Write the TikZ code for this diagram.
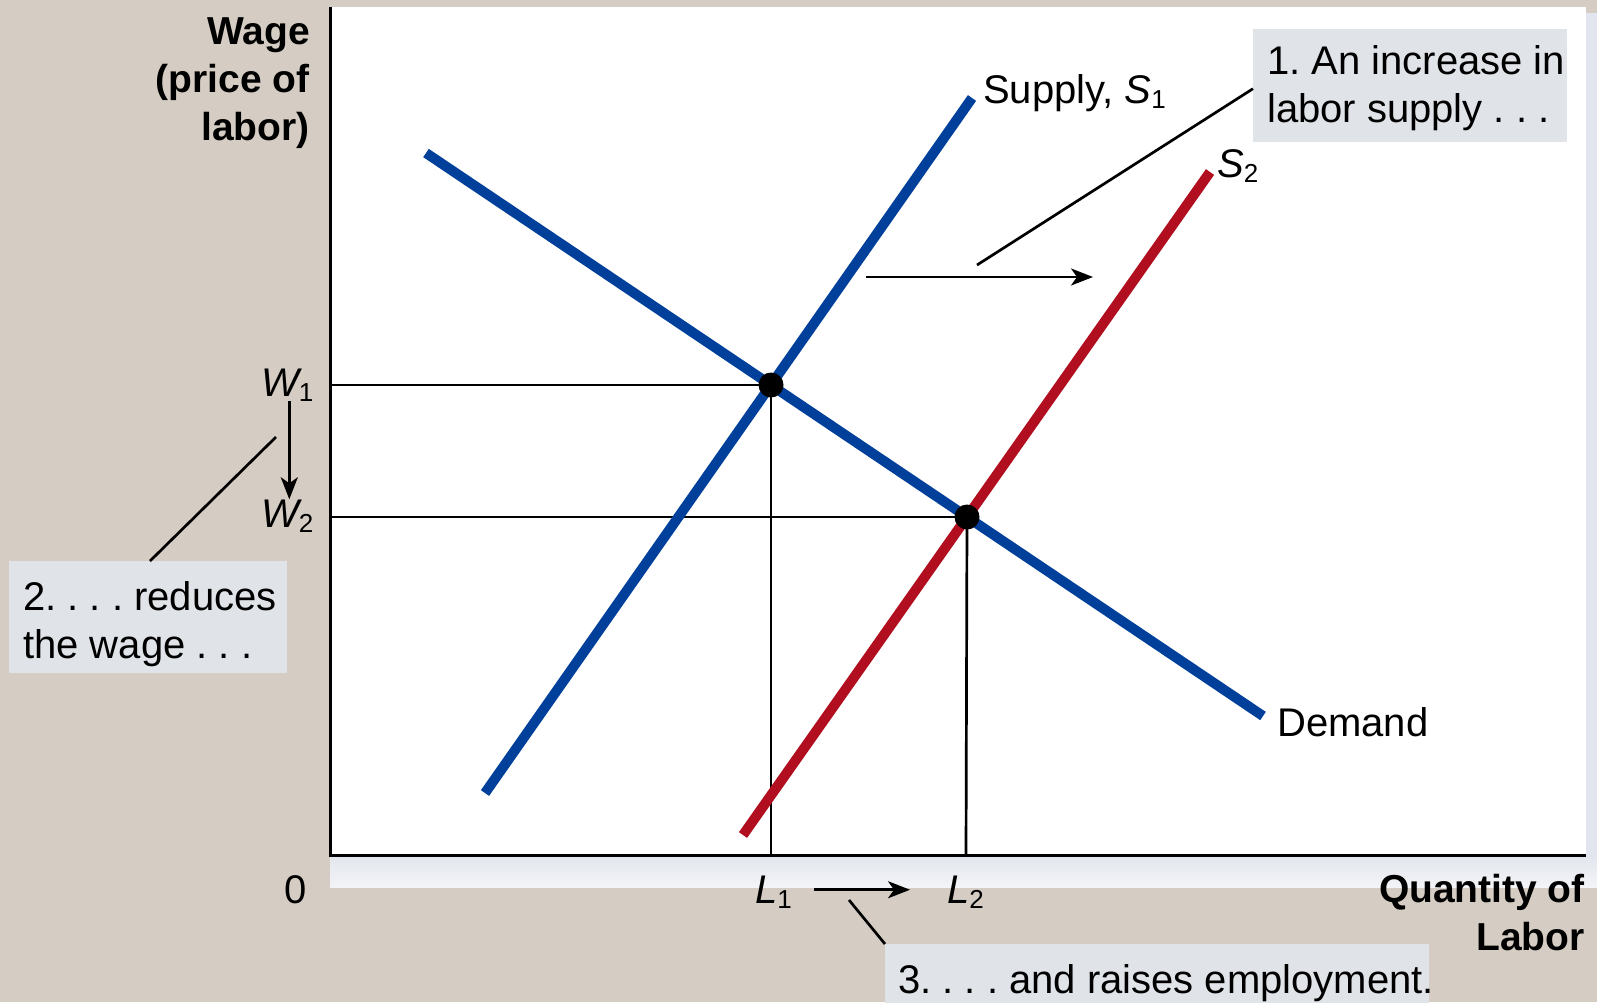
\documentclass[tikz,border=0pt]{standalone}
\usepackage{fontspec}
\setmainfont{Liberation Sans}
\usetikzlibrary{arrows.meta}
\definecolor{beige}{HTML}{D5CDC3}
\definecolor{boxgray}{HTML}{E0E3E8}
\definecolor{stripA}{HTML}{E2E5ED}
\definecolor{stripB}{HTML}{F3F4F7}
\definecolor{curveblue}{HTML}{00409A}
\definecolor{curvered}{HTML}{B10F1F}
\newcommand{\subsc}[1]{\raisebox{-5pt}{\fontsize{26}{26}\selectfont #1}}
\frenchspacing
\begin{document}
\frenchspacing
\begin{tikzpicture}[x=1pt,y=-1pt,
  txt/.style={font=\fontsize{40}{48}\selectfont\frenchspacing, inner sep=0pt},
  btxt/.style={font=\fontsize{39}{48}\selectfont\bfseries, inner sep=0pt},
  callbox/.style={fill=boxgray, inner sep=0pt, anchor=north west},
  thin/.style={line width=2.7pt, black},
  axisline/.style={line width=3pt, black},
  curve/.style={line width=10pt},
  arr/.style={line width=2.7pt, -{Stealth[length=22pt,width=17pt,inset=6pt]}},
  dot/.style={circle, fill=black, minimum size=25pt, inner sep=0pt}
]
\useasboundingbox (0,0) rectangle (1597,1002);
% backgrounds
\fill[beige] (0,0) rectangle (1597,1002);
\fill[white] (330,7) rectangle (1586,855);
\fill[stripA] (1586,13) rectangle (1597,855);
\shade[top color=stripA, bottom color=stripB] (330,855) rectangle (1597,887);

% coordinates
\coordinate (O) at (330,855);
\coordinate (ytop) at (330,7);
\coordinate (xend) at (1586,855);
\coordinate (d1) at (426,153);
\coordinate (d2) at (1263,716);
\coordinate (s1a) at (485,793);
\coordinate (s1b) at (972,98);
\coordinate (s2a) at (743,835);
\coordinate (s2b) at (1210,172);
\coordinate (e1) at (771,385);
\coordinate (e2) at (967,517);
\coordinate (ya1) at (330,385);
\coordinate (ya2) at (330,517);
\coordinate (xa1) at (771,855);
\coordinate (xa2) at (966,855);
\coordinate (sa) at (866,277);
\coordinate (sb) at (1093,277);
\coordinate (c1) at (977,265);
\coordinate (c2) at (276,437);
\coordinate (c3) at (849,900);

% guide lines
\draw[thin] (ya1) -- (e1);
\draw[thin] (ya2) -- (e2);
\draw[thin] (e1 |- ya1) -- (xa1);
\draw[thin] (e2 |- ya2) -- (xa2);

% curves
\draw[curve, curveblue] (d1) -- (d2);
\draw[curve, curveblue] (s1a) -- (s1b);
\draw[curve, curvered] (s2a) -- (s2b);

% equilibrium dots
\node[dot] (eq1) at (e1) {};
\node[dot] (eq2) at (e2) {};

% axes
\draw[axisline] (ytop) -- (O) -- (xend);

% curve labels
\node[txt, anchor=base west] (lsup) at (983,103) {Supply, {\itshape S}\subsc{1}};
\node[txt, anchor=base west] (ls2) at (1217,177) {{\itshape S}\subsc{2}};
\node[txt, anchor=base west] (ldem) at (1277,736) {Demand};

% axis labels
\node[btxt, anchor=base east] (ylab) at (310,44) {\begin{tabular}[t]{@{}r@{}}Wage\\(price of\\labor)\end{tabular}};
\node[btxt, anchor=base east] (xlab) at (1585,902) {\begin{tabular}[t]{@{}r@{}}Quantity of\\Labor\end{tabular}};
\node[txt, anchor=base east] (zero) at (307,903) {0};
\node[txt, anchor=base west] (w1) at (261,396) {{\itshape W}\subsc{1}};
\node[txt, anchor=base west] (w2) at (261,527) {{\itshape W}\subsc{2}};
\node[txt, anchor=base west] (l1) at (755,903) {{\itshape L}\subsc{1}};
\node[txt, anchor=base west] (l2) at (947,903) {{\itshape L}\subsc{2}};

% arrows
\draw[arr] (sa) -- (sb);
\draw[arr] ([xshift=2pt]w1.south) -- ([xshift=2pt]w2.north);
\draw[arr] ([xshift=22pt,yshift=2pt]l1.east) -- ([xshift=-37pt,yshift=2pt]l2.west);

% callout boxes
\node[callbox, minimum width=314pt, minimum height=113pt] (box1) at (1253,29) {};
\node[txt, anchor=base west] (t1) at (1267,74) {\begin{tabular}[t]{@{}l@{}}1. An increase in\\labor supply . . .\end{tabular}};
\node[callbox, minimum width=278pt, minimum height=112pt] (box2) at (9,561) {};
\node[txt, anchor=base west] (t2) at (23,610) {\begin{tabular}[t]{@{}l@{}}2. . . . reduces\\the wage . . .\end{tabular}};
\node[callbox, minimum width=544pt, minimum height=60pt] (box3) at (885,944) {};
\node[txt, anchor=base west] (t3) at (898,993) {3. . . . and raises employment.};

% callout lines
\draw[thin] ([yshift=-3pt]box1.west) -- (c1);
\draw[thin] ([xshift=141pt]box2.north west) -- (c2);
\draw[thin] (box3.north west) -- (c3);
\end{tikzpicture}
\end{document}
